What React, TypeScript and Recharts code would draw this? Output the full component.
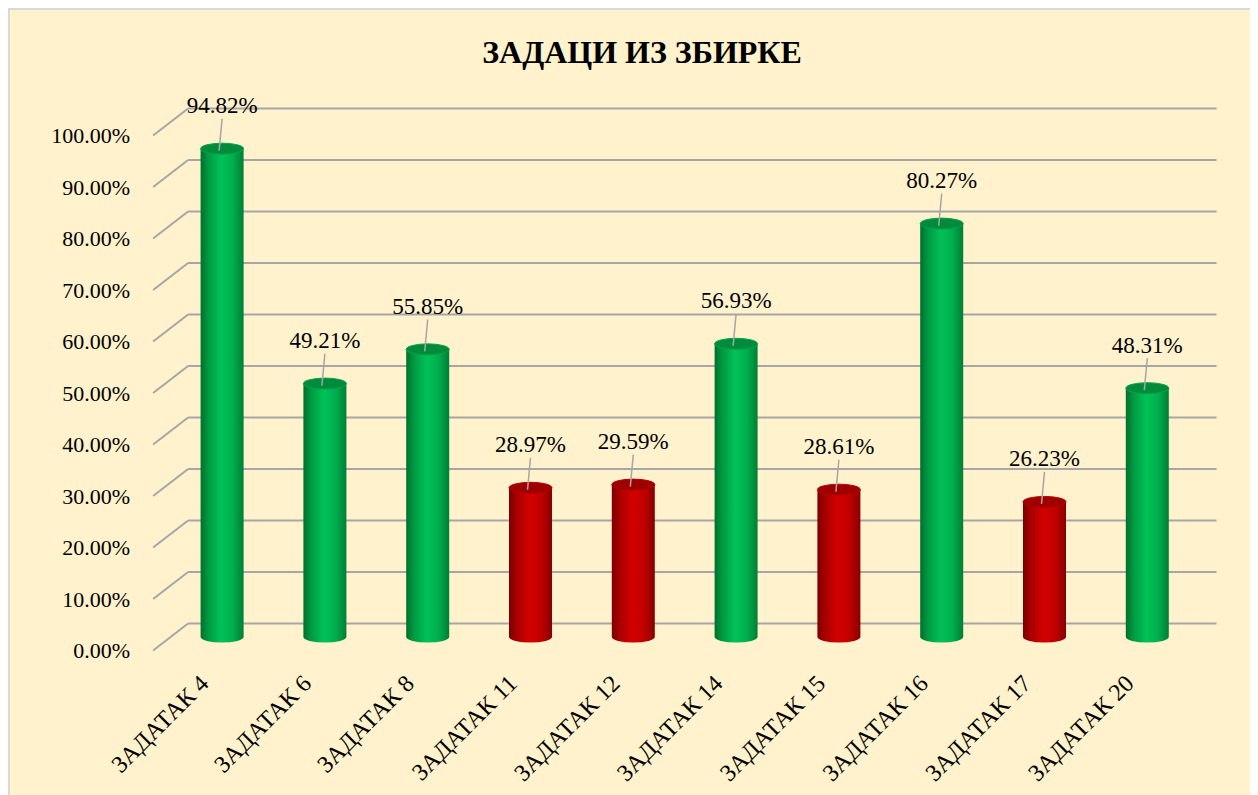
import { Bar, BarChart, CartesianGrid, LabelList, XAxis, YAxis } from "recharts";

const categories = [
  "ЗАДАТАК 4",
  "ЗАДАТАК 6",
  "ЗАДАТАК 8",
  "ЗАДАТАК 11",
  "ЗАДАТАК 12",
  "ЗАДАТАК 14",
  "ЗАДАТАК 15",
  "ЗАДАТАК 16",
  "ЗАДАТАК 17",
  "ЗАДАТАК 20",
];
const values = [0.9482, 0.4921, 0.5585, 0.2897, 0.2959, 0.5693, 0.2861, 0.8027, 0.2623, 0.4831];
const yTicks = [0, 0.1, 0.2, 0.3, 0.4, 0.5, 0.6, 0.7, 0.8, 0.9, 1];

const title = "ЗАДАЦИ ИЗ ЗБИРКЕ";
const passMark = 0.4;

const data = categories.map((name, i) => ({ name, value: values[i] }));

const FONT = '"Liberation Serif", "Times New Roman", serif';
const DEPTH = 13.5;
const GRID = "#A6A6A6";

const pct = (v: number) => `${(v * 100).toFixed(2)}%`;

function GridLine(props: any) {
  const { x1, x2, y1 } = props;
  return (
    <g key={props.key}>
      <line x1={x1 - 17.5} y1={y1 + DEPTH} x2={x1 + 17.5} y2={y1 - DEPTH} stroke={GRID} strokeWidth={2} />
      <line x1={x1 + 17.5} y1={y1 - DEPTH} x2={x2 + 18} y2={y1 - DEPTH} stroke={GRID} strokeWidth={2} />
    </g>
  );
}

function YTick({ y, payload }: any) {
  return (
    <text x={120} y={y + DEPTH} textAnchor="end" dominantBaseline="central" fontFamily={FONT} fontSize={22} fill="#000">
      {pct(payload.value)}
    </text>
  );
}

function XTick({ x, y, payload }: any) {
  const tx = x - 12;
  const ty = y + 40;
  return (
    <text x={tx} y={ty} textAnchor="end" transform={`rotate(-45 ${tx} ${ty})`} fontFamily={FONT} fontSize={24} fill="#000">
      {payload.value}
    </text>
  );
}

function Cylinder(props: any) {
  const { x, y, width, height, value } = props;
  const v = Array.isArray(value) ? value[1] : value;
  const green = v >= passMark;
  const rx = width / 2;
  const ry = 5.5;
  const id = green ? "cylGreen" : "cylRed";
  const top = green ? "#008A3C" : "#9E0000";
  const rim = green ? "#00A648" : "#B80000";
  return (
    <g>
      <path
        d={`M${x},${y} L${x},${y + height} A${rx},${ry} 0 0 0 ${x + width},${y + height} L${x + width},${y} Z`}
        fill={`url(#${id})`}
      />
      <ellipse cx={x + rx} cy={y} rx={rx} ry={ry} fill={top} stroke={rim} strokeWidth={1} />
    </g>
  );
}

function ValueLabel({ x, y, width, value }: any) {
  const cx = x + width / 2;
  return (
    <g>
      <line x1={cx - 3} y1={y + 2} x2={cx} y2={y - 30} stroke={GRID} strokeWidth={1.5} />
      <text x={cx} y={y - 43} textAnchor="middle" dominantBaseline="central" fontFamily={FONT} fontSize={23} fill="#000">
        {pct(value)}
      </text>
    </g>
  );
}

export default function App() {
  return (
    <div
      style={{
        width: 1249,
        height: 790,
        background: "#FFF2CC",
        borderTop: "2px solid #D9D9D9",
        borderLeft: "2px solid #D9D9D9",
        position: "relative",
      }}
    >
      <BarChart
        width={1249}
        height={790}
        data={data}
        margin={{ top: 112, right: 60.4, bottom: 63, left: 60.6 }}
        barSize={43}
      >
        <defs>
          <linearGradient id="cylGreen" x1="0" y1="0" x2="1" y2="0">
            <stop offset="0%" stopColor="#00702C" />
            <stop offset="18%" stopColor="#009A42" />
            <stop offset="48%" stopColor="#00C257" />
            <stop offset="75%" stopColor="#00AE4E" />
            <stop offset="100%" stopColor="#007F34" />
          </linearGradient>
          <linearGradient id="cylRed" x1="0" y1="0" x2="1" y2="0">
            <stop offset="0%" stopColor="#7A0000" />
            <stop offset="18%" stopColor="#A80000" />
            <stop offset="48%" stopColor="#D40000" />
            <stop offset="75%" stopColor="#C00000" />
            <stop offset="100%" stopColor="#860000" />
          </linearGradient>
        </defs>
        <text x={632} y={53} textAnchor="middle" fontFamily={FONT} fontWeight="bold" fontSize={32} fill="#000">
          {title}
        </text>
        <CartesianGrid vertical={false} horizontal={GridLine} />
        <XAxis dataKey="name" axisLine={false} tickLine={false} interval={0} height={100} tick={XTick} />
        <YAxis
          domain={[0, 1]}
          ticks={yTicks}
          width={100}
          axisLine={false}
          tickLine={false}
          tick={YTick}
        />
        <Bar dataKey="value" shape={Cylinder} isAnimationActive={false}>
          <LabelList dataKey="value" content={ValueLabel} />
        </Bar>
      </BarChart>
    </div>
  );
}
